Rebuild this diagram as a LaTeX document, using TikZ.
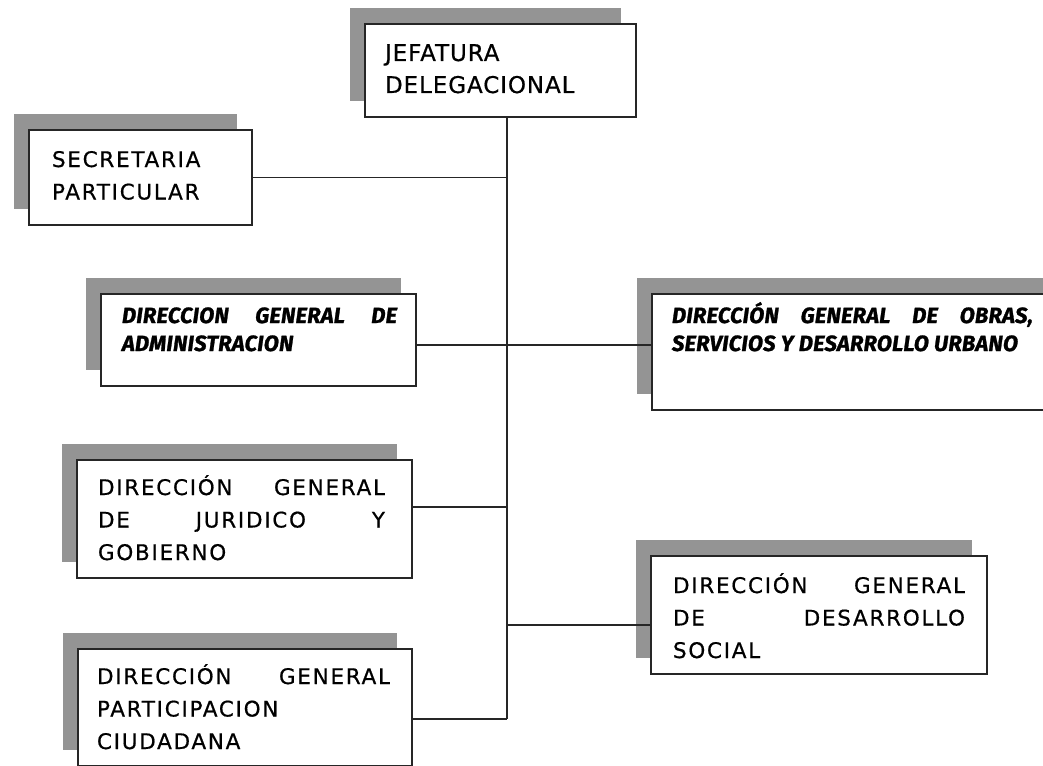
\documentclass[tikz,border=0pt]{standalone}
\usepackage{fontspec}
\usetikzlibrary{shadows,calc}
\newfontfamily\regf{DejaVu Sans}[LetterSpace=8, FakeBold=0.6]
\newfontfamily\jeff{DejaVu Sans}[LetterSpace=4, FakeBold=0.6]
\newfontfamily\bif{Fira Sans}[LetterSpace=1, FakeBold=1.2]
\tikzset{
  orgbox/.style={draw=black!85, line width=1.1pt, fill=white, anchor=north west, inner sep=0pt, outer sep=0pt,
    general shadow={shadow xshift=-15pt, shadow yshift=16pt, draw=none, fill=black!42}},
  txt/.style={anchor=north west, inner sep=0pt, outer sep=0pt, text height=0pt, text=black},
  link/.style={draw=black!85, line width=1.1pt},
  regtext/.style={font=\regf\fontsize{21.5}{32.5}\selectfont},
  jeftext/.style={font=\jeff\fontsize{23}{32}\selectfont},
  boldtext/.style={font=\bif\bfseries\itshape\fontsize{22}{28}\selectfont},
}
\begin{document}
\begin{tikzpicture}[x=1pt,y=-1pt]
\useasboundingbox (0,0) rectangle (1043,765);
% boxes
\node[orgbox, minimum width=271pt, minimum height=93pt] (J) at (365,24) {};
\node[orgbox, minimum width=223pt, minimum height=95pt] (S) at (29,130) {};
\node[orgbox, minimum width=315pt, minimum height=92pt] (A) at (101,294) {};
\node[orgbox, minimum width=420pt, minimum height=116pt] (O) at (652,294) {};
\node[orgbox, minimum width=335pt, minimum height=118pt] (R) at (77,460) {};
\node[orgbox, minimum width=336pt, minimum height=118pt] (D) at (651,556) {};
\node[orgbox, minimum width=334pt, minimum height=117pt] (P) at (78,649) {};
% texts
\node[txt, jeftext] (Jt) at (385,61) {\parbox[t]{231pt}{JEFATURA\\DELEGACIONAL}};
\node[txt, regtext] (St) at (52,167) {\parbox[t]{190pt}{SECRETARIA\\PARTICULAR}};
\node[txt, boldtext] (At) at (122,323) {\parbox[t]{275pt}{DIRECCION\hfill GENERAL\hfill DE\\ADMINISTRACION}};
\node[txt, boldtext] (Ot) at (672,323) {\parbox[t]{361pt}{DIRECCIÓN\hfill GENERAL\hfill DE\hfill OBRAS,\\SERVICIOS Y DESARROLLO URBANO}};
\node[txt, regtext] (Rt) at (98,495) {\parbox[t]{287pt}{DIRECCIÓN\hfill GENERAL\\DE\hfill JURIDICO\hfill Y\\GOBIERNO}};
\node[txt, regtext] (Dt) at (673,593) {\parbox[t]{292pt}{DIRECCIÓN\hfill GENERAL\\DE\hfill DESARROLLO\\SOCIAL}};
\node[txt, regtext] (Pt) at (97,684) {\parbox[t]{293pt}{DIRECCIÓN\hfill GENERAL\\PARTICIPACION\\CIUDADANA}};
% connectors
\coordinate (tb) at (507,719);
\draw[link] (J.south -| tb) -- (tb);
\draw[link] (S.east) -- (S.east -| tb);
\draw[link] ($(A.north east)+(0,51)$) coordinate (a1) -- (O.west |- a1);
\draw[link] ($(R.north east)+(0,47)$) coordinate (r1) -- (tb |- r1);
\draw[link] ($(D.north west)+(0,69)$) coordinate (d1) -- (tb |- d1);
\draw[link] (P.east |- tb) -- (tb);
\end{tikzpicture}
\end{document}
